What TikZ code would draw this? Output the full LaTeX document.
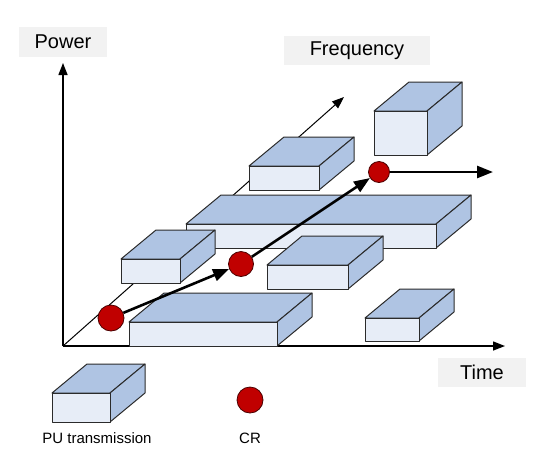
\documentclass[tikz,border=0pt]{standalone}
\usepackage{fontspec}
\setmainfont{Liberation Sans}
\usetikzlibrary{arrows.meta}
\definecolor{frontc}{HTML}{E7EDF7}
\definecolor{topc}{HTML}{AFC4E3}
\definecolor{edgec}{HTML}{2B2B2B}
\definecolor{crred}{HTML}{C00000}
\definecolor{crline}{HTML}{4A0000}
\definecolor{lblbg}{HTML}{F2F2F2}
\newcommand{\pubox}[4]{%
  \filldraw[facestyle,fill=topc] (#1,#2) -- (#1+35,#2-29) -- (#3+35,#2-29) -- (#3,#2) -- cycle;
  \filldraw[facestyle,fill=topc] (#3,#2) -- (#3+35,#2-29) -- (#3+35,#4-29) -- (#3,#4) -- cycle;
  \filldraw[facestyle,fill=frontc] (#1,#2) rectangle (#3,#4);
}
\tikzset{
  facestyle/.style={draw=edgec,line width=1pt,line join=round},
  axislabel/.style={fill=lblbg,inner sep=0pt,font=\fontsize{20}{24}\selectfont},
  axisline/.style={line width=1.4pt,-{Triangle[length=12pt,width=9pt]}},
  crnode/.style={circle,fill=crred,draw=crline,line width=0.8pt,inner sep=0pt},
  crpath/.style={line width=2.6pt,-{Triangle[length=16pt,width=12pt]}},
  legendtext/.style={font=\fontsize{15}{18}\selectfont}
}
\begin{document}
\begin{tikzpicture}[x=1pt,y=-1pt]
\useasboundingbox (0,0) rectangle (537,456);
% axis label boxes
\node[axislabel,minimum width=88pt,minimum height=30pt] (power) at (63,42) {Power};
\node[axislabel,minimum width=146pt,minimum height=29pt] (freq) at (357,50.5) {Frequency};
\node[axislabel,minimum width=88pt,minimum height=29pt] (time) at (482,372.5) {Time};
% axes
\coordinate (origin) at (63,346);
\coordinate (ptip) at (63,63);
\coordinate (ttip) at (505,346);
\coordinate (ftip) at (344,97);
\draw[axisline] (origin) -- (ptip);
\draw[axisline] (origin) -- (ttip);
\draw[line width=1pt,-{Triangle[length=12pt,width=9pt]}] (origin) -- (ftip);
% PU transmissions
\pubox{374}{111}{427}{155}
\pubox{249}{166}{319}{190}
\pubox{186}{224}{436}{248}
\pubox{121}{259}{180}{283}
\pubox{267}{265}{348}{289}
\pubox{129}{322}{277}{346}
\pubox{365}{318}{419}{341}
% legend box
\pubox{52}{393}{110}{422}
% CR path
\node[crnode,minimum size=26pt] (cr1) at (111,318) {};
\node[crnode,minimum size=25pt] (cr2) at (241,264) {};
\node[crnode,minimum size=21pt] (cr3) at (379,172) {};
\coordinate (crend) at (493,172);
\draw[crpath] (cr1) -- (cr2);
\draw[crpath] (cr2) -- (cr3);
\draw[crpath] (cr3) -- (crend);
% legend
\node[crnode,minimum size=26pt] (crlegend) at (250,400) {};
\node[legendtext] (pulabel) at (97,438) {PU transmission};
\node[legendtext] (crlabel) at (250,438) {CR};
\end{tikzpicture}
\end{document}
